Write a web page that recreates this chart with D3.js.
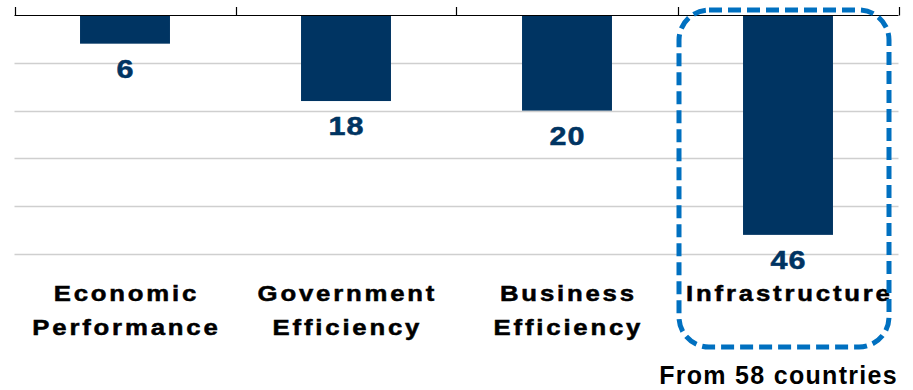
<!DOCTYPE html>
<html>
<head>
<meta charset="utf-8">
<script src="https://cdn.jsdelivr.net/npm/d3@7"></script>
<style>
  body { margin: 0; background: #fff; }
  text { font-family: "Liberation Sans", Arial, sans-serif; font-weight: bold; }
</style>
</head>
<body>
<div id="chart"></div>
<script>
// data
var categories = ["Economic Performance", "Government Efficiency", "Business Efficiency", "Infrastructure"];
var labelLines = [["Economic", "Performance"], ["Government", "Efficiency"], ["Business", "Efficiency"], ["Infrastructure"]];
var ranks = [6, 18, 20, 46];
var gridTicks = [10, 20, 30, 40, 50];
var note = "From 58 countries";

var W = 913, H = 390;
var barColor = "#003462";

var svg = d3.select("#chart").append("svg").attr("width", W).attr("height", H);

var x = d3.scaleBand().domain(categories).range([14.5, 898.5]).paddingInner(0.593).paddingOuter(0.2965);
var y = d3.scaleLinear().domain([0, 50]).range([15, 254]);

// grid lines
svg.selectAll(".grid").data(gridTicks).enter().append("line")
  .attr("x1", 14.5).attr("x2", 898.5)
  .attr("y1", function(d) { return Math.round(y(d)) + 0.5; })
  .attr("y2", function(d) { return Math.round(y(d)) + 0.5; })
  .attr("stroke", "#cfcfcf").attr("stroke-width", 1.5);

// bars hang down from the top axis
svg.selectAll(".bar").data(ranks).enter().append("rect")
  .attr("x", function(d, i) { return x(categories[i]); })
  .attr("y", y(0))
  .attr("width", x.bandwidth())
  .attr("height", function(d) { return y(d) - y(0); })
  .attr("fill", barColor);

// top axis with ticks at band edges
var half = (x.step() - x.bandwidth()) / 2;
var edges = categories.map(function(c) { return x(c) - half; });
edges.push(x(categories[categories.length - 1]) + x.bandwidth() + half);
svg.append("line").attr("x1", edges[0]).attr("x2", edges[edges.length - 1])
  .attr("y1", y(0) + 0.5).attr("y2", y(0) + 0.5).attr("stroke", "#000").attr("stroke-width", 1.2);
svg.selectAll(".tick").data(edges).enter().append("line")
  .attr("x1", function(d) { return Math.round(d) + 0.5; })
  .attr("x2", function(d) { return Math.round(d) + 0.5; })
  .attr("y1", 7).attr("y2", y(0) + 0.5)
  .attr("stroke", "#000").attr("stroke-width", 1.2);

// stretched bold text, like the original slide
function wideText(cx, cy, str, size, sx, ls, color) {
  svg.append("text")
    .attr("transform", "translate(" + cx + "," + cy + ") scale(" + sx + ",1)")
    .attr("x", ls / 2).attr("text-anchor", "middle")
    .style("font-size", size + "px").style("letter-spacing", ls + "px")
    .attr("fill", color).attr("stroke", color).attr("stroke-width", 0.5)
    .text(str);
}

// value labels
ranks.forEach(function(d, i) {
  wideText(x(categories[i]) + x.bandwidth() / 2, y(d) + 34, d, 25, 1.22, 1, barColor);
});

// category labels
labelLines.forEach(function(lines, i) {
  var cx = x(categories[i]) + x.bandwidth() / 2;
  lines.forEach(function(s, j) {
    wideText(cx, 301 + j * 34, s, 22, 1.17, 2.4, "#000");
  });
});

// dashed highlight around the last category
var last = categories[categories.length - 1];
var bx0 = x(last) - half + 1.5, bx1 = x(last) + x.bandwidth() + half - 9.5;
svg.append("rect")
  .attr("x", bx0).attr("y", 10)
  .attr("width", bx1 - bx0).attr("height", 337)
  .attr("rx", 30).attr("ry", 30)
  .attr("fill", "none").attr("stroke", "#0070c0")
  .attr("stroke-width", 5).attr("stroke-dasharray", "13,6");

svg.append("text").attr("x", 898).attr("y", 384).attr("text-anchor", "end")
  .style("font-size", "25px").style("letter-spacing", "1.3px").attr("fill", "#000")
  .text(note);
</script>
</body>
</html>
